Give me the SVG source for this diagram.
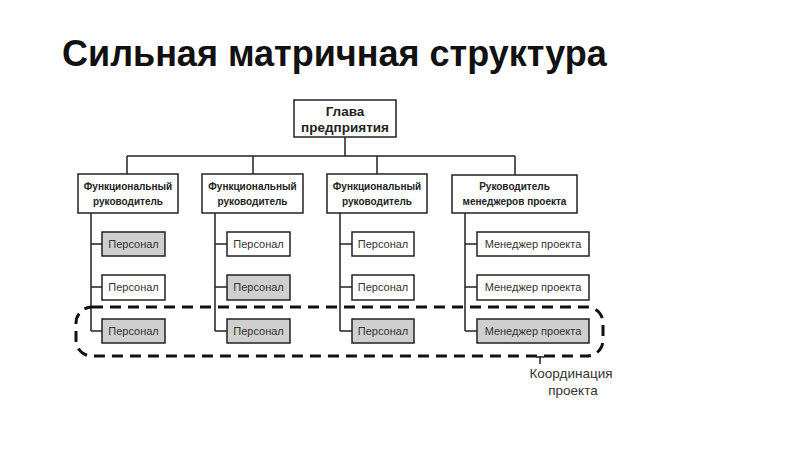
<svg xmlns="http://www.w3.org/2000/svg" width="800" height="450" viewBox="0 0 800 450">
<style>
.box{fill:#fff;stroke:#222;stroke-width:1.5}
.g{fill:#cfcfcf}
.ln{fill:none;stroke:#222;stroke-width:1.5}
.t{font-family:"Liberation Sans",Arial,sans-serif;font-size:11px;fill:#333;text-anchor:middle}
.h{font-weight:bold;fill:#222}
.f{font-size:10px}
.big{font-size:13.5px}
.lbl{font-size:13.5px}
.title{font-family:"Liberation Sans",Arial,sans-serif;font-size:36px;font-weight:bold;fill:#111}
</style>
<rect width="800" height="450" fill="#fff"/>
<text class="title" x="62" y="66">Сильная матричная структура</text>
<g id="connectors">
<path class="ln" d="M345 137V156M127 156H515M127 156V174M253 156V174M377 156V174M515 156V175"/>
<path class="ln" d="M91 213V331M91 244H102M91 287H102M91 331H102"/>
<path class="ln" d="M215 213V331M215 244H227M215 287H227M215 331H227"/>
<path class="ln" d="M340 213V331M340 244H352M340 287H352M340 331H352"/>
<path class="ln" d="M465 213V331M465 244H477M465 287H477M465 331H477"/>
</g>
<g id="top"><rect class="box" x="294" y="100" width="102" height="37"/><text class="t h big" x="345" y="116">Глава</text><text class="t h big" x="345" y="132">предприятия</text></g>
<g id="f1"><rect class="box" x="78" y="174" width="100" height="39"/><text class="t h f" x="128" y="190">Функциональный</text><text class="t h f" x="128" y="205">руководитель</text></g>
<g id="f2"><rect class="box" x="202" y="174" width="101" height="39"/><text class="t h f" x="252.5" y="190">Функциональный</text><text class="t h f" x="252.5" y="205">руководитель</text></g>
<g id="f3"><rect class="box" x="327" y="174" width="100" height="39"/><text class="t h f" x="377" y="190">Функциональный</text><text class="t h f" x="377" y="205">руководитель</text></g>
<g id="f4"><rect class="box" x="452" y="175" width="125" height="38"/><text class="t h f" x="514.5" y="190">Руководитель</text><text class="t h f" x="514.5" y="205">менеджеров проекта</text></g>
<g id="p11"><rect class="box g" x="102" y="232" width="63" height="24"/><text class="t" x="133.5" y="248">Персонал</text></g>
<g id="p12"><rect class="box" x="102" y="275" width="63" height="25"/><text class="t" x="133.5" y="291">Персонал</text></g>
<g id="p13"><rect class="box g" x="102" y="319" width="63" height="24"/><text class="t" x="133.5" y="335">Персонал</text></g>
<g id="p21"><rect class="box" x="227" y="232" width="63" height="24"/><text class="t" x="258.5" y="248">Персонал</text></g>
<g id="p22"><rect class="box g" x="227" y="275" width="63" height="25"/><text class="t" x="258.5" y="291">Персонал</text></g>
<g id="p23"><rect class="box g" x="227" y="319" width="63" height="24"/><text class="t" x="258.5" y="335">Персонал</text></g>
<g id="p31"><rect class="box" x="352" y="232" width="62" height="24"/><text class="t" x="383" y="248">Персонал</text></g>
<g id="p32"><rect class="box" x="352" y="275" width="62" height="25"/><text class="t" x="383" y="291">Персонал</text></g>
<g id="p33"><rect class="box g" x="352" y="319" width="62" height="24"/><text class="t" x="383" y="335">Персонал</text></g>
<g id="m1"><rect class="box" x="477" y="232" width="112" height="24"/><text class="t" x="533" y="248">Менеджер проекта</text></g>
<g id="m2"><rect class="box" x="477" y="275" width="112" height="25"/><text class="t" x="533" y="291">Менеджер проекта</text></g>
<g id="m3"><rect class="box g" x="477" y="319" width="112" height="24"/><text class="t" x="533" y="335">Менеджер проекта</text></g>
<g id="coordination">
<rect x="76" y="307" width="527" height="49" rx="16" ry="16" fill="none" stroke="#111" stroke-width="3" stroke-dasharray="11 7"/>
<path class="ln" d="M540 356V364M536 357H544"/>
<text class="t lbl" x="571" y="378">Координация</text>
<text class="t lbl" x="573" y="395">проекта</text>
</g>
</svg>
